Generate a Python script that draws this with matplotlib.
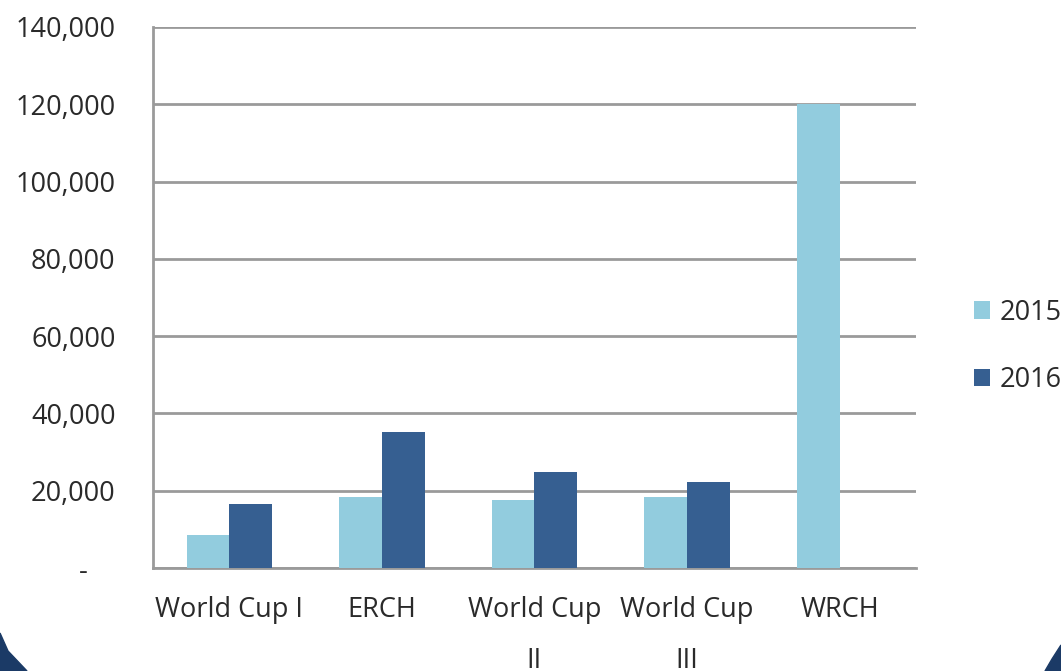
import numpy as np
import matplotlib.pyplot as plt
from matplotlib.patches import Polygon

plt.rcParams['font.family'] = ['Open Sans', 'DejaVu Sans']

events = ['World Cup I', 'ERCH', 'World Cup\nII', 'World Cup\nIII', 'WRCH']
vals_2015 = [8500, 18400, 17600, 18400, 120000]
vals_2016 = [16500, 35200, 24800, 22200, 0]
yticks = [0, 20000, 40000, 60000, 80000, 100000, 120000, 140000]

c2015 = '#92CCDE'
c2016 = '#365F91'
grid_c = '#9a9a9a'

fig = plt.figure(figsize=(10.61, 6.71), dpi=100)
ax = fig.add_axes([0.1442, 0.1535, 0.7191, 0.8063])

x = np.arange(len(events))
w = 0.28
ax.bar(x - w / 2, vals_2015, w, color=c2015, label='2015', zorder=3)
ax.bar(x + w / 2, vals_2016, w, color=c2016, label='2016', zorder=3)

ax.set_xlim(-0.5, len(events) - 0.5)
ax.set_ylim(0, 140000)
ax.set_yticks(yticks)
ylabels = ['{:,}'.format(v) for v in yticks]
ylabels[0] = '-    '
ax.set_yticklabels(ylabels)
ax.set_xticks(x)
ax.set_xticklabels(events, linespacing=2.1, va='top')

ax.yaxis.grid(True, color=grid_c, linewidth=2, zorder=0)
ax.tick_params(axis='both', length=0, labelsize=19.5, colors='#2a2a2a')
ax.tick_params(axis='y', pad=27)
ax.tick_params(axis='x', pad=20)
for s in ['top', 'right']:
    ax.spines[s].set_visible(False)
for s in ['left', 'bottom']:
    ax.spines[s].set_color(grid_c)
    ax.spines[s].set_linewidth(2)

ax.legend(loc='center left', bbox_to_anchor=(1.058, 0.41), frameon=False,
          prop={'size': 19.5}, handlelength=0.6, handleheight=0.6, handletextpad=0.35,
          labelspacing=1.45, borderpad=0, labelcolor='#2a2a2a')

# dark decoration in the bottom corners
fig.patches.append(Polygon([[0, 0], [0, 38 / 671], [8 / 1061, 20 / 671], [27 / 1061, 0]],
                           closed=True, transform=fig.transFigure, color='#1b3a66', zorder=0))
fig.patches.append(Polygon([[1, 0], [1, 26 / 671], [1052 / 1061, 12 / 671], [1045 / 1061, 0]],
                           closed=True, transform=fig.transFigure, color='#1b3a66', zorder=0))

fig.savefig('out.png', dpi=100)
